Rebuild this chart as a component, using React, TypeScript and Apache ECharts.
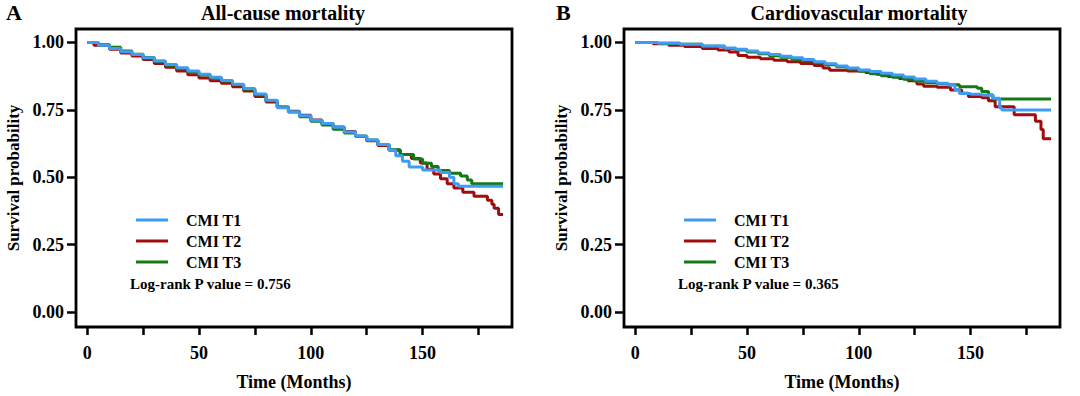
import React, { useEffect, useRef } from "react";
import * as echarts from "echarts";

const FONT = '"Liberation Serif", "Times New Roman", serif';

const panelTitles = ["All-cause mortality", "Cardiovascular mortality"];
const panelLetters = ["A", "B"];
const groupNames = ["CMI T1", "CMI T2", "CMI T3"];
const groupColors = ["#3f9cf4", "#a00d0d", "#137a13"];
const logRankTexts = ["Log-rank P value = 0.756", "Log-rank P value = 0.365"];
const xTicks = [0, 25, 50, 75, 100, 125, 150, 175];
const xLabels = [0, 50, 100, 150];
const yTicks = [0, 0.25, 0.5, 0.75, 1];

// Panel A: all-cause mortality, [months, survival]
const allCauseT1 = [
  [0, 1], [5, 0.99], [10, 0.978], [15, 0.966], [20, 0.955], [25, 0.943], [30, 0.931],
  [35, 0.918], [40, 0.906], [45, 0.894], [50, 0.882], [55, 0.871], [60, 0.859],
  [65, 0.845], [70, 0.829], [75, 0.809], [80, 0.786], [85, 0.758], [90, 0.743],
  [95, 0.728], [100, 0.712], [105, 0.7], [110, 0.686], [115, 0.668], [120, 0.653],
  [125, 0.638], [130, 0.622], [135, 0.6], [138, 0.58], [141, 0.56], [144, 0.538],
  [150, 0.527], [158, 0.518], [162, 0.5], [164, 0.476], [166, 0.467], [186, 0.467],
];
const allCauseT2 = [
  [0, 1], [3, 0.99], [10, 0.975], [15, 0.961], [20, 0.95], [25, 0.937], [30, 0.922],
  [35, 0.908], [40, 0.894], [45, 0.88], [50, 0.868], [55, 0.858], [60, 0.849],
  [65, 0.836], [70, 0.82], [75, 0.8], [80, 0.779], [85, 0.761], [90, 0.745],
  [95, 0.73], [100, 0.713], [105, 0.7], [110, 0.687], [115, 0.67], [120, 0.652],
  [125, 0.636], [130, 0.618], [135, 0.6], [140, 0.585], [145, 0.57], [149, 0.553],
  [152, 0.53], [155, 0.512], [158, 0.495], [161, 0.476], [164, 0.46], [168, 0.445],
  [173, 0.43], [179, 0.415], [181, 0.4], [182, 0.385], [184, 0.362], [186, 0.362],
];
const allCauseT3 = [
  [0, 1], [5, 0.992], [10, 0.982], [15, 0.968], [20, 0.956], [25, 0.944], [30, 0.93],
  [35, 0.916], [40, 0.903], [45, 0.891], [50, 0.879], [55, 0.868], [60, 0.857],
  [65, 0.843], [70, 0.827], [75, 0.806], [80, 0.784], [85, 0.76], [90, 0.742],
  [95, 0.725], [100, 0.708], [105, 0.694], [110, 0.678], [115, 0.664], [120, 0.652],
  [125, 0.638], [130, 0.622], [135, 0.602], [140, 0.585], [146, 0.568], [150, 0.552],
  [154, 0.54], [157, 0.525], [162, 0.515], [167, 0.505], [170, 0.49], [172, 0.476],
  [186, 0.476],
];

// Panel B: cardiovascular mortality, [months, survival]
const cardioT1 = [
  [0, 1], [10, 0.997], [20, 0.993], [30, 0.987], [40, 0.98], [45, 0.975], [50, 0.968],
  [55, 0.961], [60, 0.955], [65, 0.949], [70, 0.943], [75, 0.937], [80, 0.929],
  [85, 0.921], [90, 0.913], [95, 0.905], [100, 0.898], [105, 0.892], [110, 0.886],
  [115, 0.879], [120, 0.872], [125, 0.865], [130, 0.856], [135, 0.849], [140, 0.842],
  [143, 0.825], [145, 0.811], [150, 0.808], [155, 0.805], [160, 0.793], [163, 0.757],
  [164, 0.75], [186, 0.75],
];
const cardioT2 = [
  [0, 1], [8, 0.995], [15, 0.99], [22, 0.985], [30, 0.978], [37, 0.972], [42, 0.965],
  [46, 0.952], [50, 0.945], [56, 0.94], [62, 0.934], [68, 0.929], [74, 0.922],
  [80, 0.915], [84, 0.905], [87, 0.897], [95, 0.894], [103, 0.889], [108, 0.882],
  [113, 0.874], [118, 0.866], [122, 0.858], [126, 0.846], [129, 0.838], [135, 0.834],
  [141, 0.824], [146, 0.812], [149, 0.8], [155, 0.795], [158, 0.784], [161, 0.762],
  [169.5, 0.732], [179, 0.708], [181.5, 0.677], [182.5, 0.643], [186, 0.643],
];
const cardioT3 = [
  [0, 1], [10, 0.997], [20, 0.993], [30, 0.986], [40, 0.978], [45, 0.972], [50, 0.965],
  [55, 0.958], [60, 0.951], [65, 0.945], [70, 0.938], [75, 0.932], [80, 0.925],
  [85, 0.917], [90, 0.91], [95, 0.902], [100, 0.893], [105, 0.884], [110, 0.877],
  [115, 0.871], [120, 0.864], [125, 0.857], [130, 0.851], [135, 0.847], [140, 0.843],
  [145, 0.836], [153, 0.83], [155, 0.818], [158, 0.805], [160, 0.79], [186, 0.79],
];

const panels = [
  [allCauseT1, allCauseT2, allCauseT3],
  [cardioT1, cardioT2, cardioT3],
];

const gridLefts = [76, 624];
const GRID_W = 436;
const GRID_TOP = 29;
const GRID_H = 303;

export default function App() {
  const ref = useRef<HTMLDivElement>(null);

  useEffect(() => {
    if (!ref.current) return;
    const chart = echarts.init(ref.current, undefined, { renderer: "svg" });

    const axisText = { color: "#000", fontFamily: FONT, fontWeight: "bold" as const, fontSize: 18 };

    const grids = gridLefts.map((left) => ({
      left,
      top: GRID_TOP,
      width: GRID_W,
      height: GRID_H,
      show: true,
      borderColor: "#000",
      borderWidth: 2.8,
      backgroundColor: "transparent",
    }));

    const xAxes = gridLefts.map((_, i) => ({
      type: "value",
      gridIndex: i,
      min: -5,
      max: 190,
      name: "Time (Months)",
      nameLocation: "middle",
      nameGap: 46,
      nameTextStyle: { ...axisText, fontSize: 18 },
      axisLine: { show: false, onZero: false },
      axisTick: { show: true, length: 8, lineStyle: { color: "#000", width: 2.5 }, customValues: xTicks },
      axisLabel: { ...axisText, margin: 17, customValues: xLabels },
      splitLine: { show: false },
    }));

    const yAxes = gridLefts.map((_, i) => ({
      type: "value",
      gridIndex: i,
      min: -0.055,
      max: 1.05,
      name: "Survival probability",
      nameLocation: "middle",
      nameGap: 54,
      nameRotate: 90,
      nameTextStyle: { ...axisText, fontSize: 17 },
      axisLine: { show: false, onZero: false },
      axisTick: { show: true, length: 9, lineStyle: { color: "#000", width: 2.5 }, customValues: yTicks },
      axisLabel: {
        ...axisText,
        margin: 12,
        customValues: yTicks,
        formatter: (v: number) => v.toFixed(2),
      },
      splitLine: { show: false },
    }));

    const drawOrder = [1, 2, 0];
    const series: any[] = [];
    panels.forEach((curves, p) => {
      drawOrder.forEach((g, k) => {
        series.push({
          type: "line",
          name: groupNames[g],
          xAxisIndex: p,
          yAxisIndex: p,
          data: curves[g],
          step: "end",
          showSymbol: false,
          symbol: "none",
          color: groupColors[g],
          lineStyle: { color: groupColors[g], width: 3 },
          z: 2 + k,
        });
      });
    });

    const legends = gridLefts.map((left) => ({
      orient: "vertical",
      left: left + 60,
      top: 212,
      padding: 0,
      itemWidth: 32,
      itemHeight: 3,
      itemGap: 5,
      icon: "rect",
      selectedMode: false,
      data: groupNames,
      formatter: (name: string) => `{p|${name}}`,
      textStyle: {
        rich: {
          p: {
            padding: [0, 0, 0, 13],
            fontFamily: FONT,
            fontWeight: "bold",
            fontSize: 16,
            color: "#000",
          },
        },
      },
    }));

    const graphics: any[] = [];
    gridLefts.forEach((left, i) => {
      graphics.push({
        type: "text",
        left: i === 0 ? 6 : 556,
        top: 1,
        style: { text: panelLetters[i], font: `bold 22px ${FONT}`, fill: "#000" },
      });
      graphics.push({
        type: "text",
        x: i === 0 ? 283 : 859,
        y: 13,
        style: {
          text: panelTitles[i],
          font: `bold 20px ${FONT}`,
          fill: "#000",
          textAlign: "center",
          textVerticalAlign: "middle",
        },
      });
      graphics.push({
        type: "text",
        x: left + 54,
        y: 284,
        style: {
          text: logRankTexts[i],
          font: `bold 15px ${FONT}`,
          fill: "#000",
          textAlign: "left",
          textVerticalAlign: "middle",
        },
      });
    });

    chart.setOption({
      animation: false,
      backgroundColor: "#fff",
      grid: grids,
      xAxis: xAxes,
      yAxis: yAxes,
      legend: legends,
      series,
      graphic: graphics,
    });

    return () => chart.dispose();
  }, []);

  return <div ref={ref} style={{ width: 1080, height: 396, position: "absolute", left: 0, top: 0 }} />;
}
